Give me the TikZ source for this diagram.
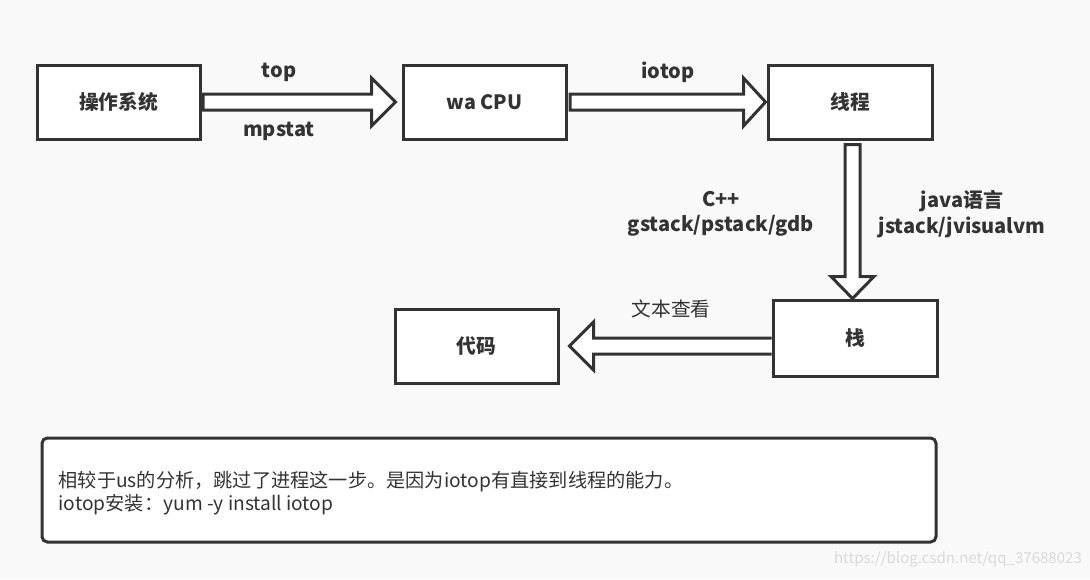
\documentclass[tikz,border=0pt]{standalone}
\usepackage{fontspec}
\setmainfont{Noto Sans CJK SC}
\usetikzlibrary{calc}
\definecolor{ink}{HTML}{333333}
\definecolor{bg}{HTML}{F9F9F9}
\newcommand{\lowtext}[1]{\raisebox{-2pt}{#1}}
\tikzset{
  box/.style={draw=ink, line width=2.25pt, fill=white, minimum width=122.25pt, minimum height=55.5pt, font=\bfseries\fontsize{14.8pt}{18pt}\selectfont, text=ink},
  blockarrow/.style={draw=ink, line width=2.25pt, fill=white, line join=miter},
  lbl/.style={font=\bfseries\fontsize{15pt}{19pt}\selectfont, text=ink, align=center},
  plain/.style={font=\fontsize{14.4pt}{17.3pt}\selectfont, text=ink},
}
\begin{document}
\begin{tikzpicture}[x=0.75pt,y=-0.75pt]
\fill[bg] (0,0) rectangle (1090,579);
\useasboundingbox (0,0) rectangle (1090,579);

\node[box] (os) at (118.5,102) {\lowtext{操作系统}};
\node[box] (cpu) at (484.5,102) {\lowtext{wa CPU}};
\node[box, minimum width=123pt] (thr) at (850,102) {\lowtext{线程}};
\node[box, minimum width=123pt, minimum height=57pt] (stk) at (855,338) {\lowtext{栈}};
\node[box] (code) at (476.5,346) {\lowtext{代码}};

% arrow os -> cpu
\draw[blockarrow] ($(os.east)+(1.5,-8)$) -- ($(cpu.west)+(-30,-8)$) -- ($(cpu.west)+(-30,-24)$) -- ($(cpu.west)+(-6,0)$) -- ($(cpu.west)+(-30,24)$) -- ($(cpu.west)+(-30,8)$) -- ($(os.east)+(1.5,8)$) -- cycle;
% arrow cpu -> thr
\draw[blockarrow] ($(cpu.east)+(2.5,-8)$) -- ($(thr.west)+(-23,-8)$) -- ($(thr.west)+(-23,-24)$) -- ($(thr.west)+(-1,0)$) -- ($(thr.west)+(-23,24)$) -- ($(thr.west)+(-23,8)$) -- ($(cpu.east)+(2.5,8)$) -- cycle;
% arrow thr -> stk
\coordinate (a3s) at ($(thr.south)+(2.5,4)$);
\coordinate (a3t) at ($(stk.north)+(-2.5,0)$);
\draw[blockarrow] ($(a3s)+(-7.5,0)$) -- ($(a3t)+(-7.5,-22)$) -- ($(a3t)+(-21.5,-22)$) -- (a3t) -- ($(a3t)+(21.5,-22)$) -- ($(a3t)+(7.5,-22)$) -- ($(a3s)+(7.5,0)$) -- cycle;
% arrow stk -> code
\coordinate (a4t) at ($(code.east)+(10,0)$);
\coordinate (a4s) at ($(stk.west)+(0,8)$);
\draw[blockarrow] ($(a4s)+(0,-8)$) -- ($(a4t)+(24,-8)$) -- ($(a4t)+(24,-24)$) -- (a4t) -- ($(a4t)+(24,24)$) -- ($(a4t)+(24,8)$) -- ($(a4s)+(0,8)$);

\node[lbl] (l1) at (279,72) {top};
\node[lbl] (l2) at (279,131) {mpstat};
\node[lbl] (l3) at (668,72) {iotop};
\node[lbl] (l4) at (721,214) {C++\\gstack/pstack/gdb};
\node[lbl] (l5) at (962,214) {java语言\\jstack/jvisualvm};
\node[plain, font=\fontsize{14.8pt}{18pt}\selectfont] (l6) at (671,309) {文本查看};

\node[draw=ink, line width=2.25pt, fill=white, rounded corners=4pt, minimum width=670.5pt, minimum height=78pt] (note) at (489,490) {};
\node[plain, anchor=west, align=left] (notetext) at (54,493) {相较于us的分析，跳过了进程这一步。是因为iotop有直接到线程的能力。\\iotop安装：yum -y install iotop};

\node[font=\fontsize{11.3pt}{14pt}\selectfont, text=black!15] (wm) at (958,559) {https://blog.csdn.net/qq\_37688023};
\end{tikzpicture}
\end{document}
